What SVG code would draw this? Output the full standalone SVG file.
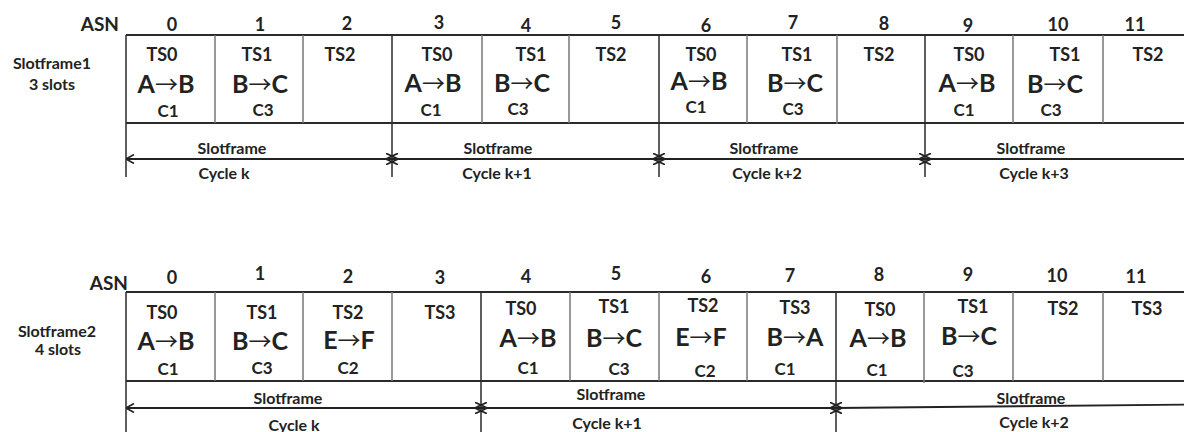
<svg xmlns="http://www.w3.org/2000/svg" width="1184" height="432" viewBox="0 0 1184 432">
<style>
text{font-family:Lato,"Open Sans","Liberation Sans",sans-serif;font-weight:bold;fill:#222;text-anchor:middle;dominant-baseline:central}
.asn{font-size:19px;text-anchor:end}
.num{font-size:18px}
.ts{font-size:18px}
.tx{font-size:25px}
.ar{font-family:"Noto Sans CJK JP","DejaVu Sans",sans-serif;font-weight:normal;font-size:23px}
.ch{font-size:17px}
.sf{font-size:16px}
.side{font-size:16px}
.div{stroke:#777;stroke-width:1.5}
.bdr{stroke:#2a2a2a;stroke-width:2;fill:none}
.tick{stroke:#2a2a2a;stroke-width:1.5}
.cyc{stroke:#222;stroke-width:1.8;fill:none;marker-start:url(#chx);marker-end:url(#chx)}
.cyc0{marker-start:url(#che)}
</style>
<defs>
<marker id="chx" viewBox="0 0 10 10" refX="5" refY="5" markerWidth="12" markerHeight="12" markerUnits="userSpaceOnUse" orient="auto-start-reverse">
<path d="M0,0.3 L10,5 L0,9.7" fill="none" stroke="#222" stroke-width="1.5"/>
</marker>
<marker id="che" viewBox="0 0 10 10" refX="10" refY="5" markerWidth="10" markerHeight="10" markerUnits="userSpaceOnUse" orient="auto-start-reverse">
<path d="M2,0.5 L10,5 L2,9.5" fill="none" stroke="#222" stroke-width="1.6"/>
</marker>
</defs>

<!-- ===== Slotframe1 ===== -->
<g id="sf1-labels">
<text class="asn" x="119" y="23">ASN</text>
<text class="side" x="52" y="62">Slotframe1</text>
<text class="side" x="52" y="83">3 slots</text>
<text class="num" x="172" y="24">0</text>
<text class="num" x="260" y="24">1</text>
<text class="num" x="347" y="23">2</text>
<text class="num" x="439" y="22">3</text>
<text class="num" x="526" y="25">4</text>
<text class="num" x="616" y="22">5</text>
<text class="num" x="706" y="25">6</text>
<text class="num" x="793" y="22">7</text>
<text class="num" x="884" y="23">8</text>
<text class="num" x="968" y="25">9</text>
<text class="num" x="1058" y="24">10</text>
<text class="num" x="1135" y="24">11</text>
</g>
<g id="sf1-table">
<line class="bdr" x1="126" y1="35" x2="1184" y2="35"/>
<line class="bdr" x1="126" y1="123" x2="1184" y2="123"/>
<line class="div" x1="215" y1="35" x2="215" y2="123"/>
<line class="div" x1="303" y1="35" x2="303" y2="123"/>
<line class="div" x1="482" y1="35" x2="482" y2="123"/>
<line class="div" x1="569" y1="35" x2="569" y2="123"/>
<line class="div" x1="747" y1="35" x2="747" y2="123"/>
<line class="div" x1="837" y1="35" x2="837" y2="124"/>
<line class="div" x1="1013" y1="35" x2="1013" y2="123"/>
<line class="div" x1="1103" y1="35" x2="1103" y2="123"/>
<line class="tick" x1="126" y1="35" x2="126" y2="177"/>
<line class="tick" x1="392" y1="35" x2="392" y2="177"/>
<line class="tick" x1="659" y1="35" x2="659" y2="177"/>
<line class="tick" x1="925" y1="35" x2="925" y2="177"/>
</g>
<g id="sf1-slot0"><text class="ts" x="162" y="54">TS0</text><text class="tx" x="166" y="83">A<tspan class="ar">→</tspan>B</text><text class="ch" x="168" y="110">C1</text></g>
<g id="sf1-slot1"><text class="ts" x="257" y="54">TS1</text><text class="tx" x="260" y="83">B<tspan class="ar">→</tspan>C</text><text class="ch" x="263" y="109">C3</text></g>
<g id="sf1-slot2"><text class="ts" x="340" y="54">TS2</text></g>
<g id="sf1-slot3"><text class="ts" x="437" y="54">TS0</text><text class="tx" x="433" y="82">A<tspan class="ar">→</tspan>B</text><text class="ch" x="431" y="109">C1</text></g>
<g id="sf1-slot4"><text class="ts" x="531" y="54">TS1</text><text class="tx" x="522" y="82">B<tspan class="ar">→</tspan>C</text><text class="ch" x="518" y="108">C3</text></g>
<g id="sf1-slot5"><text class="ts" x="611" y="54">TS2</text></g>
<g id="sf1-slot6"><text class="ts" x="701" y="54">TS0</text><text class="tx" x="699" y="80">A<tspan class="ar">→</tspan>B</text><text class="ch" x="696" y="106">C1</text></g>
<g id="sf1-slot7"><text class="ts" x="797" y="54">TS1</text><text class="tx" x="795" y="82">B<tspan class="ar">→</tspan>C</text><text class="ch" x="793" y="108">C3</text></g>
<g id="sf1-slot8"><text class="ts" x="879" y="54">TS2</text></g>
<g id="sf1-slot9"><text class="ts" x="969" y="54">TS0</text><text class="tx" x="967" y="82">A<tspan class="ar">→</tspan>B</text><text class="ch" x="964" y="109">C1</text></g>
<g id="sf1-slot10"><text class="ts" x="1065" y="54">TS1</text><text class="tx" x="1055" y="83">B<tspan class="ar">→</tspan>C</text><text class="ch" x="1051" y="109">C3</text></g>
<g id="sf1-slot11"><text class="ts" x="1148" y="54">TS2</text></g>
<g id="sf1-cycles-text">
<text class="sf" x="232" y="147">Slotframe</text><text class="sf" x="224" y="172">Cycle k</text>
<text class="sf" x="498" y="147">Slotframe</text><text class="sf" x="497" y="172">Cycle k+1</text>
<text class="sf" x="764" y="147">Slotframe</text><text class="sf" x="767" y="172">Cycle k+2</text>
<text class="sf" x="1031" y="147">Slotframe</text><text class="sf" x="1034" y="172">Cycle k+3</text>
</g>

<!-- ===== Slotframe2 ===== -->
<g id="sf2-labels">
<text class="asn" x="128" y="282">ASN</text>
<text class="side" x="57" y="330">Slotframe2</text>
<text class="side" x="58" y="348">4 slots</text>
<text class="num" x="172" y="277">0</text>
<text class="num" x="260" y="273">1</text>
<text class="num" x="348" y="276">2</text>
<text class="num" x="440" y="277">3</text>
<text class="num" x="526" y="276">4</text>
<text class="num" x="616" y="273">5</text>
<text class="num" x="706" y="276">6</text>
<text class="num" x="790" y="275">7</text>
<text class="num" x="879" y="274">8</text>
<text class="num" x="968" y="274">9</text>
<text class="num" x="1057" y="275">10</text>
<text class="num" x="1136" y="276">11</text>
</g>
<g id="sf2-table">
<line class="bdr" x1="126" y1="292" x2="1184" y2="292"/>
<line class="bdr" x1="126" y1="381" x2="1184" y2="381"/>
<line class="div" x1="215" y1="292" x2="215" y2="381"/>
<line class="div" x1="303" y1="292" x2="303" y2="381"/>
<line class="div" x1="392" y1="292" x2="392" y2="381"/>
<line class="div" x1="570" y1="292" x2="570" y2="381"/>
<line class="div" x1="659" y1="292" x2="659" y2="381"/>
<line class="div" x1="747" y1="292" x2="747" y2="381"/>
<line class="div" x1="924" y1="292" x2="924" y2="383"/>
<line class="div" x1="1013" y1="292" x2="1013" y2="381"/>
<line class="div" x1="1103" y1="292" x2="1103" y2="381"/>
<line class="tick" x1="126" y1="292" x2="126" y2="432"/>
<line class="tick" x1="481" y1="292" x2="481" y2="432"/>
<line class="tick" x1="836" y1="292" x2="836" y2="432"/>
</g>
<g id="sf2-slot0"><text class="ts" x="162" y="312">TS0</text><text class="tx" x="166" y="340">A<tspan class="ar">→</tspan>B</text><text class="ch" x="168" y="368">C1</text></g>
<g id="sf2-slot1"><text class="ts" x="262" y="312">TS1</text><text class="tx" x="260" y="340">B<tspan class="ar">→</tspan>C</text><text class="ch" x="262" y="367">C3</text></g>
<g id="sf2-slot2"><text class="ts" x="348" y="312">TS2</text><text class="tx" x="349" y="339">E<tspan class="ar">→</tspan>F</text><text class="ch" x="348" y="367">C2</text></g>
<g id="sf2-slot3"><text class="ts" x="440" y="312">TS3</text></g>
<g id="sf2-slot4"><text class="ts" x="521" y="308">TS0</text><text class="tx" x="528" y="337">A<tspan class="ar">→</tspan>B</text><text class="ch" x="528" y="367">C1</text></g>
<g id="sf2-slot5"><text class="ts" x="614" y="306">TS1</text><text class="tx" x="614" y="337">B<tspan class="ar">→</tspan>C</text><text class="ch" x="619" y="368">C3</text></g>
<g id="sf2-slot6"><text class="ts" x="703" y="305">TS2</text><text class="tx" x="701" y="336">E<tspan class="ar">→</tspan>F</text><text class="ch" x="705" y="370">C2</text></g>
<g id="sf2-slot7"><text class="ts" x="795" y="307">TS3</text><text class="tx" x="795" y="336">B<tspan class="ar">→</tspan>A</text><text class="ch" x="785" y="368">C1</text></g>
<g id="sf2-slot8"><text class="ts" x="880" y="309">TS0</text><text class="tx" x="878" y="337">A<tspan class="ar">→</tspan>B</text><text class="ch" x="877" y="369">C1</text></g>
<g id="sf2-slot9"><text class="ts" x="973" y="306">TS1</text><text class="tx" x="969" y="335">B<tspan class="ar">→</tspan>C</text><text class="ch" x="963" y="370">C3</text></g>
<g id="sf2-slot10"><text class="ts" x="1063" y="308">TS2</text></g>
<g id="sf2-slot11"><text class="ts" x="1147" y="308">TS3</text></g>
<g id="sf2-cycles-text">
<text class="sf" x="288" y="397">Slotframe</text><text class="sf" x="294" y="424">Cycle k</text>
<text class="sf" x="611" y="393">Slotframe</text><text class="sf" x="607" y="422">Cycle k+1</text>
<text class="sf" x="1031" y="397">Slotframe</text><text class="sf" x="1034" y="421">Cycle k+2</text>
</g>

<!-- ===== connectors: cycle dimension arrows ===== -->
<g id="connectors">
<line class="cyc cyc0" x1="126" y1="159" x2="392" y2="159"/>
<line class="cyc" x1="392" y1="159" x2="659" y2="159"/>
<line class="cyc" x1="659" y1="159" x2="925" y2="159"/>
<line class="cyc" x1="925" y1="159" x2="1200" y2="159"/>
<line class="cyc cyc0" x1="126" y1="408" x2="481" y2="408"/>
<line class="cyc" x1="481" y1="408" x2="836" y2="408"/>
<line class="cyc" x1="836" y1="408" x2="1200" y2="404.5"/>
</g>
</svg>
